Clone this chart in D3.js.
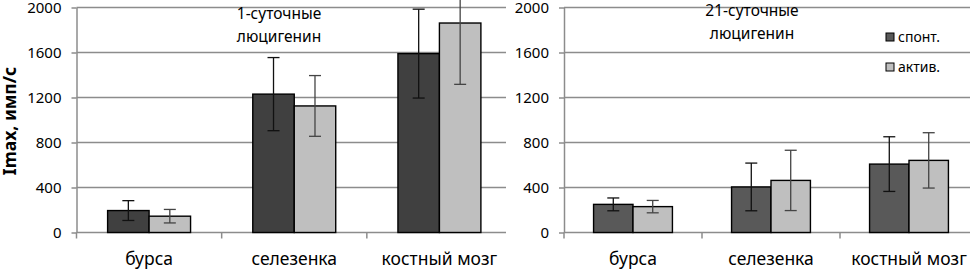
<!DOCTYPE html>
<html lang="ru">
<head>
<meta charset="UTF-8">
<title>Imax</title>
<script src="https://d3js.org/d3.v7.min.js"></script>
<style>
  body { margin: 0; background: #fff; }
  svg { display: block; font-family: "Noto Sans", sans-serif; }
  .grid line { stroke: #8c8c8c; stroke-width: 1.3px; }
  .axis line, .axis path { stroke: #8c8c8c; stroke-width: 1.5px; }
  .bar { stroke: #000; stroke-width: 1.4px; }
</style>
</head>
<body>
<svg width="970" height="270"></svg>
<script>
// data
const categories = ["бурса", "селезенка", "костный мозг"];
const seriesNames = ["спонт.", "актив."];
const yTicks = [0, 400, 800, 1200, 1600, 2000];

const day1Spont = [195, 1230, 1590];
const day1SpontErr = [88, 325, 395];
const day1Activ = [145, 1125, 1862];
const day1ActivErr = [60, 270, 545];

const day21Spont = [250, 405, 608];
const day21SpontErr = [57, 212, 243];
const day21Activ = [230, 463, 641];
const day21ActivErr = [55, 268, 246];

const svg = d3.select("svg");

const y = d3.scaleLinear().domain([0, 2000]).range([232.5, 7.5]);

const panels = [
  { left: 76.5, right: 512, gridEnd: 506, dark: "#404040",
    title: ["1-суточные", "люцигенин"], titleX: 279, titleY: 19,
    spont: day1Spont, spontErr: day1SpontErr, activ: day1Activ, activErr: day1ActivErr },
  { left: 564, right: 978, gridEnd: 970, dark: "#595959",
    title: ["21-суточные", "люцигенин"], titleX: 752, titleY: 16,
    spont: day21Spont, spontErr: day21SpontErr, activ: day21Activ, activErr: day21ActivErr }
];

panels.forEach(p => {
  const g = svg.append("g");

  const x0 = d3.scaleBand().domain(categories).range([p.left, p.right]).padding(0);
  const x1 = d3.scaleBand().domain(seriesNames).range([0, x0.bandwidth()])
    .paddingInner(0).paddingOuter(0.75);

  // gridlines
  g.append("g").attr("class", "grid")
    .selectAll("line").data(yTicks.filter(t => t > 0)).enter().append("line")
    .attr("x1", p.left).attr("x2", p.gridEnd)
    .attr("y1", d => y(d)).attr("y2", d => y(d));

  // y axis
  const yAxis = g.append("g").attr("class", "axis")
    .attr("transform", `translate(${p.left},0)`)
    .call(d3.axisLeft(y).tickValues(yTicks).tickFormat(d3.format("d"))
      .tickSizeInner(5).tickSizeOuter(0).tickPadding(10));
  yAxis.selectAll("text").attr("font-size", "15px").attr("fill", "#000")
    .attr("font-family", "Noto Sans");

  // x axis line + category ticks
  const xa = g.append("g").attr("class", "axis");
  xa.append("line").attr("x1", p.left).attr("x2", p.gridEnd)
    .attr("y1", y(0)).attr("y2", y(0));
  xa.selectAll(".ct").data(categories).enter().append("line")
    .attr("x1", d => x0(d)).attr("x2", d => x0(d))
    .attr("y1", y(0)).attr("y2", y(0) + 6);

  // bars
  const rows = categories.map((c, i) => ({
    cat: c,
    vals: [
      { s: seriesNames[0], v: p.spont[i], e: p.spontErr[i], fill: p.dark, ec: "#111" },
      { s: seriesNames[1], v: p.activ[i], e: p.activErr[i], fill: "#bfbfbf", ec: "#444" }
    ]
  }));

  const cg = g.selectAll(".cat").data(rows).enter().append("g")
    .attr("transform", d => `translate(${x0(d.cat)},0)`);

  cg.selectAll("rect").data(d => d.vals).enter().append("rect")
    .attr("class", "bar")
    .attr("x", d => x1(d.s)).attr("width", x1.bandwidth())
    .attr("y", d => y(d.v)).attr("height", d => y(0) - y(d.v))
    .attr("fill", d => d.fill);

  const eb = cg.selectAll(".err").data(d => d.vals).enter().append("g")
    .attr("stroke", d => d.ec).attr("stroke-width", 1.3);
  eb.append("line")
    .attr("x1", d => x1(d.s) + x1.bandwidth() / 2).attr("x2", d => x1(d.s) + x1.bandwidth() / 2)
    .attr("y1", d => y(d.v + d.e)).attr("y2", d => y(d.v - d.e));
  eb.append("line")
    .attr("x1", d => x1(d.s) + x1.bandwidth() / 2 - 6).attr("x2", d => x1(d.s) + x1.bandwidth() / 2 + 6)
    .attr("y1", d => y(d.v + d.e)).attr("y2", d => y(d.v + d.e));
  eb.append("line")
    .attr("x1", d => x1(d.s) + x1.bandwidth() / 2 - 6).attr("x2", d => x1(d.s) + x1.bandwidth() / 2 + 6)
    .attr("y1", d => y(d.v - d.e)).attr("y2", d => y(d.v - d.e));

  // category labels
  g.selectAll(".cl").data(categories).enter().append("text")
    .attr("x", d => x0(d) + x0.bandwidth() / 2).attr("y", 265)
    .attr("text-anchor", "middle").attr("font-size", "17.5px").text(d => d);

  // title
  g.append("text").attr("text-anchor", "middle").attr("font-size", "15.5px")
    .selectAll("tspan").data(p.title).enter().append("tspan")
    .attr("x", p.titleX).attr("y", (d, i) => p.titleY + i * 23).text(d => d);
});

// y axis title
svg.append("text")
  .attr("transform", "translate(16,121) rotate(-90)")
  .attr("text-anchor", "middle").attr("font-size", "17.5px").attr("font-weight", "bold")
  .text("Imax, имп/с");

// legend
const legend = svg.append("g");
const legendColors = ["#595959", "#bfbfbf"];
seriesNames.forEach((s, i) => {
  legend.append("rect").attr("x", 886).attr("y", 33 + i * 30).attr("width", 8).attr("height", 8)
    .attr("fill", legendColors[i]).attr("stroke", "#000").attr("stroke-width", 1);
  legend.append("text").attr("x", 898).attr("y", 42 + i * 30).attr("font-size", "14px").text(s);
});
</script>
</body>
</html>
